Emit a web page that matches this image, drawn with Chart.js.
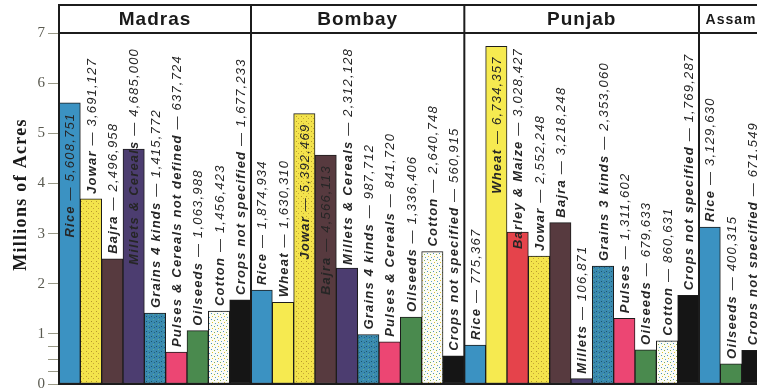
<!DOCTYPE html>
<html>
<head>
<meta charset="utf-8">
<script src="https://cdn.jsdelivr.net/npm/chart.js@4.4.0/dist/chart.umd.min.js"></script>
<style>
  html, body { margin: 0; padding: 0; background: #fff; overflow: hidden; }
  #wrap { width: 763px; height: 389px; }
</style>
</head>
<body>
<div id="wrap"><canvas id="acreage" width="763" height="389"></canvas></div>
<script>
// ===== Data (acres under each crop) =====
const regions = ['Madras', 'Bombay', 'Punjab', 'Assam'];

const madrasCrops = ['Rice', 'Jowar', 'Bajra', 'Millets & Cereals', 'Grains 4 kinds',
  'Pulses & Cereals not defined', 'Oilseeds', 'Cotton', 'Crops not specified'];
const madrasAcres = [5608751, 3691127, 2496958, 4685000, 1415772, 637724, 1063988, 1456423, 1677233];

const bombayCrops = ['Rice', 'Wheat', 'Jowar', 'Bajra', 'Millets & Cereals', 'Grains 4 kinds',
  'Pulses & Cereals', 'Oilseeds', 'Cotton', 'Crops not specified'];
const bombayAcres = [1874934, 1630310, 5392469, 4566113, 2312128, 987712, 841720, 1336406, 2640748, 560915];

const punjabCrops = ['Rice', 'Wheat', 'Barley & Maize', 'Jowar', 'Bajra', 'Millets', 'Grains 3 kinds',
  'Pulses', 'Oilseeds', 'Cotton', 'Crops not specified'];
const punjabAcres = [775367, 6734357, 3028427, 2552248, 3218248, 106871, 2353060, 1311602, 679633, 860631, 1769287];

const assamCrops = ['Rice', 'Oilseeds', 'Crops not specified'];
const assamAcres = [3129630, 400315, 671549];

const yTicks = [0, 1, 2, 3, 4, 5, 6, 7];      // millions of acres
const yMinorTicks = [0.25, 0.5, 0.75];

const groups = [madrasCrops, bombayCrops, punjabCrops, assamCrops];
const labels = [].concat(...groups);
const acres = [].concat(madrasAcres, bombayAcres, punjabAcres, assamAcres);

// ===== Fills =====
function dotPattern(base, size, dots) {
  const tile = document.createElement('canvas');
  tile.width = size;
  tile.height = size;
  const g = tile.getContext('2d');
  g.fillStyle = base;
  g.fillRect(0, 0, size, size);
  dots.forEach(([x, y, c]) => {
    g.fillStyle = c;
    g.fillRect(x, y, 1, 1);
  });
  return g.createPattern(tile, 'repeat');
}

const FILLS = {
  rice: '#3b92c2',
  wheat: '#f6ea50',
  jowar: dotPattern('#f3e34c', 5, [[1, 1, '#b89a2a'], [3, 3, '#c7a53a']]),
  bajra: '#573a3f',
  millets: '#4c3d70',
  grains: dotPattern('#3a8ab0', 5, [[1, 1, '#1b5668'], [3, 4, '#5fae92'], [4, 2, '#24657e']]),
  pulses: '#ec4673',
  oilseeds: '#4a8a4e',
  cotton: dotPattern('#fcfcf4', 6, [[1, 1, '#4a8fc6'], [4, 2, '#86b04a'], [2, 4, '#e0c030'], [5, 5, '#5fa0c8']]),
  unspecified: '#151515',
  barley: '#e5434b'
};

function cropFill(name) {
  if (name.startsWith('Rice')) return FILLS.rice;
  if (name.startsWith('Wheat')) return FILLS.wheat;
  if (name.startsWith('Jowar')) return FILLS.jowar;
  if (name.startsWith('Bajra')) return FILLS.bajra;
  if (name.startsWith('Millets')) return FILLS.millets;
  if (name.startsWith('Grains')) return FILLS.grains;
  if (name.startsWith('Pulses')) return FILLS.pulses;
  if (name.startsWith('Oilseeds')) return FILLS.oilseeds;
  if (name.startsWith('Cotton')) return FILLS.cotton;
  if (name.startsWith('Barley')) return FILLS.barley;
  return FILLS.unspecified;
}

const LINE = '#1c1c1c';
const HEADER_TOP = 5;

// ===== Frame, headings and axis title =====
const framePlugin = {
  id: 'frame',
  afterDatasetsDraw(chart) {
    const { ctx, chartArea: area } = chart;
    const y = chart.scales.y;
    const bars = chart.getDatasetMeta(0).data;

    ctx.save();

    // minor ticks between 0 and 1
    ctx.strokeStyle = '#9a9a88';
    ctx.lineWidth = 1;
    yMinorTicks.forEach(v => {
      const py = Math.round(y.getPixelForValue(v * 1e6)) + 0.5;
      ctx.beginPath();
      ctx.moveTo(area.left - 11, py);
      ctx.lineTo(area.left, py);
      ctx.stroke();
    });

    // group boundaries from the bar edges
    const edges = [area.left];
    let idx = 0;
    groups.forEach(g => {
      idx += g.length;
      const last = bars[idx - 1];
      edges.push(last.x + last.width / 2);
    });

    ctx.strokeStyle = LINE;
    ctx.lineWidth = 2;
    ctx.beginPath();
    ctx.moveTo(area.left, HEADER_TOP);
    ctx.lineTo(area.right + 2, HEADER_TOP);
    ctx.moveTo(area.left, area.top);
    ctx.lineTo(area.right + 2, area.top);
    ctx.moveTo(area.left, area.bottom);
    ctx.lineTo(area.right + 2, area.bottom);
    edges.forEach(ex => {
      ctx.moveTo(ex, HEADER_TOP - 1);
      ctx.lineTo(ex, area.bottom + 1);
    });
    ctx.stroke();

    // region headings
    ctx.fillStyle = '#1a1a1a';
    ctx.textAlign = 'center';
    ctx.textBaseline = 'middle';
    regions.forEach((name, i) => {
      const left = edges[i];
      const right = Math.min(edges[i + 1], chart.width);
      let size = 19;
      ctx.letterSpacing = '1px';
      ctx.font = `bold ${size}px "Liberation Sans", Arial, sans-serif`;
      while (ctx.measureText(name).width > right - left - 12 && size > 8) {
        size -= 1;
        ctx.font = `bold ${size}px "Liberation Sans", Arial, sans-serif`;
      }
      ctx.fillText(name, (left + right) / 2, (HEADER_TOP + area.top) / 2 + 1);
    });

    // axis title
    ctx.letterSpacing = '1.3px';
    ctx.font = 'bold 18px "Liberation Serif", "Times New Roman", serif';
    ctx.textBaseline = 'alphabetic';
    ctx.translate(26, (area.top + area.bottom) / 2 - 14);
    ctx.rotate(-Math.PI / 2);
    ctx.fillText('Millions of Acres', 0, 0);
    ctx.restore();
  }
};

// ===== Crop labels written up each bar =====
const barLabelPlugin = {
  id: 'barLabels',
  afterDatasetsDraw(chart) {
    const { ctx, chartArea: area } = chart;
    const bars = chart.getDatasetMeta(0).data;
    const minEnd = area.top + 15;

    ctx.save();
    ctx.fillStyle = '#262626';
    ctx.textAlign = 'left';
    ctx.textBaseline = 'middle';
    ctx.letterSpacing = '1.2px';

    bars.forEach((bar, i) => {
      const name = labels[i];
      const rest = ' \u2014 ' + acres[i].toLocaleString('en-US');
      const nameFont = 'bold italic 13px "Liberation Sans", Arial, sans-serif';
      const restFont = 'italic 13px "Liberation Sans", Arial, sans-serif';

      ctx.font = nameFont;
      const w1 = ctx.measureText(name).width;
      ctx.font = restFont;
      const w2 = ctx.measureText(rest).width;
      const len = w1 + w2;

      // above the bar if there is room, otherwise inside it, otherwise across its top
      let start = bar.y - 5;
      if (start - len < minEnd) {
        const inside = bar.y + 10 + len;
        start = inside <= bar.base - 8 ? inside : minEnd + len;
      }

      ctx.save();
      ctx.translate(bar.x + 1, start);
      ctx.rotate(-Math.PI / 2);
      ctx.font = nameFont;
      ctx.fillText(name, 0, 0);
      ctx.font = restFont;
      ctx.fillText(rest, w1, 0);
      ctx.restore();
    });
    ctx.restore();
  }
};

// ===== Chart =====
new Chart(document.getElementById('acreage'), {
  type: 'bar',
  data: {
    labels: labels,
    datasets: [{
      data: acres,
      backgroundColor: labels.map(cropFill),
      borderColor: LINE,
      borderWidth: 1,
      borderSkipped: false,
      barPercentage: 1,
      categoryPercentage: 1
    }]
  },
  options: {
    responsive: false,
    animation: false,
    events: [],
    layout: { padding: { top: 33, bottom: 5, left: 0, right: 0 } },
    plugins: {
      legend: { display: false },
      tooltip: { enabled: false }
    },
    scales: {
      x: { display: false },
      y: {
        min: 0,
        max: 7e6,
        afterBuildTicks: scale => {
          scale.ticks = yTicks.map(v => ({ value: v * 1e6 }));
        },
        afterFit: scale => {
          scale.width = 59;
          scale.paddingTop = 0;
          scale.paddingBottom = 0;
        },
        ticks: {
          padding: 3,
          color: '#5a5a50',
          font: { family: '"Liberation Serif", "Times New Roman", serif', size: 15 },
          callback: value => value / 1e6
        },
        grid: {
          drawOnChartArea: false,
          tickLength: 11,
          tickColor: '#9a9a88'
        },
        border: { display: false }
      }
    }
  },
  plugins: [framePlugin, barLabelPlugin]
});
</script>
</body>
</html>
